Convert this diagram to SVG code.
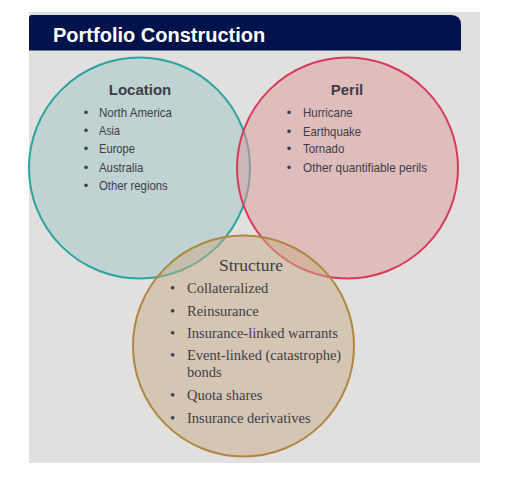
<svg xmlns="http://www.w3.org/2000/svg" width="506" height="481" viewBox="0 0 506 481">
<style>
.sans{font-family:"Liberation Sans",Arial,sans-serif;fill:#3d3d47}
.serif{font-family:"Liberation Serif","Times New Roman",serif;fill:#3d3d4a}
.head{font-weight:bold;font-size:15px;text-anchor:middle}
.item{font-size:12.8px}
.sitem{font-size:14.5px}
.bul{text-anchor:middle}
</style>
<rect width="506" height="481" fill="#ffffff"/>
<rect x="29" y="12" width="451" height="451" fill="#e1e0de"/>
<g id="header">
<path d="M29,18 Q29,15 32,15 L451,15 Q461,15 461,25 L461,50.5 L29,50.5 Z" fill="#00134d"/>
<text x="53" y="42" font-family="'Liberation Sans',Arial,sans-serif" font-weight="bold" font-size="20" fill="#ffffff">Portfolio Construction</text>
</g>
<g id="location">
<circle cx="139.5" cy="168" r="110.5" fill="rgb(157,198,198)" fill-opacity="0.5" stroke="#2ba39e" stroke-width="2"/>
</g>
<g id="peril">
<circle cx="347.5" cy="168" r="110.5" fill="rgb(221,154,154)" fill-opacity="0.5" stroke="#d93a5c" stroke-width="2"/>
</g>
<g id="structure">
<circle cx="243.5" cy="346" r="110.5" fill="rgb(199,172,134)" fill-opacity="0.5" stroke="#b0873f" stroke-width="2"/>
</g>
<g id="location-text">
<text class="sans head" x="140" y="95">Location</text>
<g class="sans item">
<text class="bul" x="86" y="116.5">•</text><text x="99" y="116.5" textLength="73" lengthAdjust="spacingAndGlyphs">North America</text>
<text class="bul" x="86" y="135">•</text><text x="99" y="135" textLength="21" lengthAdjust="spacingAndGlyphs">Asia</text>
<text class="bul" x="86" y="153.3">•</text><text x="99" y="153.3" textLength="36" lengthAdjust="spacingAndGlyphs">Europe</text>
<text class="bul" x="86" y="171.6">•</text><text x="99" y="171.6" textLength="44.3" lengthAdjust="spacingAndGlyphs">Australia</text>
<text class="bul" x="86" y="190">•</text><text x="99" y="190" textLength="68.7" lengthAdjust="spacingAndGlyphs">Other regions</text>
</g>
</g>
<g id="peril-text">
<text class="sans head" x="347" y="95">Peril</text>
<g class="sans item">
<text class="bul" x="289" y="116.5">•</text><text x="303" y="116.5" textLength="49.7" lengthAdjust="spacingAndGlyphs">Hurricane</text>
<text class="bul" x="289" y="135.5">•</text><text x="303" y="135.5" textLength="58" lengthAdjust="spacingAndGlyphs">Earthquake</text>
<text class="bul" x="289" y="153.3">•</text><text x="303" y="153.3" textLength="41.3" lengthAdjust="spacingAndGlyphs">Tornado</text>
<text class="bul" x="289" y="171.6">•</text><text x="303" y="171.6" textLength="124" lengthAdjust="spacingAndGlyphs">Other quantifiable perils</text>
</g>
</g>
<g id="structure-text">
<text class="serif" x="251" y="271" font-size="17.5" text-anchor="middle">Structure</text>
<g class="serif sitem">
<text class="bul" x="172.5" y="292.5">•</text><text x="187" y="292.5">Collateralized</text>
<text class="bul" x="172.5" y="315.5">•</text><text x="187" y="315.5">Reinsurance</text>
<text class="bul" x="172.5" y="337.5">•</text><text x="187" y="337.5">Insurance-linked warrants</text>
<text class="bul" x="172.5" y="360">•</text><text x="187" y="360">Event-linked (catastrophe)</text>
<text x="187" y="377">bonds</text>
<text class="bul" x="172.5" y="400">•</text><text x="187" y="400">Quota shares</text>
<text class="bul" x="172.5" y="422.5">•</text><text x="187" y="422.5">Insurance derivatives</text>
</g>
</g>
</svg>
